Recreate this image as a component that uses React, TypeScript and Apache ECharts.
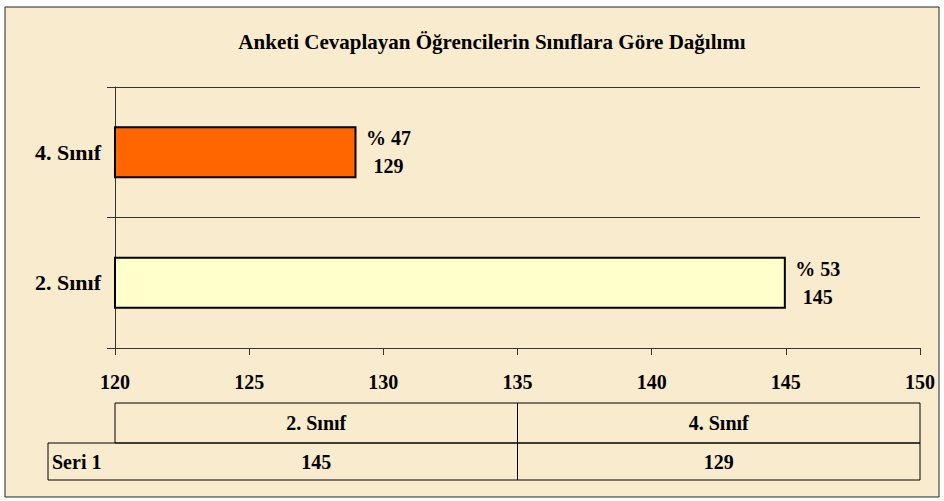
import React, { useEffect, useRef } from 'react';
import * as echarts from 'echarts';

const titleText = 'Anketi Cevaplayan Öğrencilerin Sınıflara Göre Dağılımı';
const categories = ['2. Sınıf', '4. Sınıf'];
const values = [145, 129];
const percents = [53, 47];
const barColors = ['#ffffcc', '#ff6600'];
const seriesName = 'Seri 1';
const xMin = 120;
const xMax = 150;
const xInterval = 5;

const FONT = "'Liberation Serif', 'DejaVu Serif', serif";

export default function App() {
  const ref = useRef<HTMLDivElement>(null);
  useEffect(() => {
    if (!ref.current) return;
    const chart = echarts.init(ref.current, undefined, { renderer: 'svg' });
    const gl = 115, gr = 920, gt = 87, gb = 348;
    const tTop = 403, tMid = 443, tBot = 480, tLeft = 48;
    const colW = (gr - gl) / categories.length;
    const tf = `bold 20px ${FONT}`;
    const tableEls: any[] = [
      { type: 'rect', shape: { x: gl, y: tTop, width: gr - gl, height: tMid - tTop }, style: { fill: 'none', stroke: '#000', lineWidth: 1 }, z: 10 },
      { type: 'rect', shape: { x: tLeft, y: tMid, width: gr - tLeft, height: tBot - tMid }, style: { fill: 'none', stroke: '#000', lineWidth: 1 }, z: 10 },
      { type: 'text', x: tLeft + 4, y: (tMid + tBot) / 2, style: { text: seriesName, font: tf, fill: '#000', align: 'left', verticalAlign: 'middle' }, z: 10 },
    ];
    categories.forEach((c, i) => {
      const x0 = gl + i * colW;
      if (i > 0) {
        tableEls.push({ type: 'line', shape: { x1: x0, y1: tTop, x2: x0, y2: tBot }, style: { stroke: '#000', lineWidth: 1 }, z: 10 });
      }
      tableEls.push({ type: 'text', x: x0 + colW / 2, y: (tTop + tMid) / 2, style: { text: c, font: tf, fill: '#000', align: 'center', verticalAlign: 'middle' }, z: 10 });
      tableEls.push({ type: 'text', x: x0 + colW / 2, y: (tMid + tBot) / 2, style: { text: String(values[i]), font: tf, fill: '#000', align: 'center', verticalAlign: 'middle' }, z: 10 });
    });

    chart.setOption({
      animation: false,
      backgroundColor: '#ffffff',
      title: {
        text: titleText,
        left: 487,
        textAlign: 'center',
        top: 26,
        textStyle: { fontFamily: FONT, fontWeight: 'bold', fontSize: 21, color: '#000' },
      },
      graphic: [
        { type: 'rect', shape: { x: 5, y: 7, width: 934, height: 490 }, style: { fill: '#f8ebce', stroke: '#222', lineWidth: 1 }, z: -10, silent: true },
        ...tableEls,
      ],
      grid: { left: gl, right: 944 - gr, top: gt, bottom: 501 - gb, containLabel: false },
      xAxis: {
        type: 'value',
        min: xMin,
        max: xMax,
        interval: xInterval,
        axisLine: { show: true, lineStyle: { color: '#333', width: 1 } },
        axisTick: { show: true, length: 7, lineStyle: { color: '#333' } },
        splitLine: { show: false },
        axisLabel: { margin: 24, fontFamily: FONT, fontWeight: 'bold', fontSize: 20, color: '#000' },
      },
      yAxis: {
        type: 'category',
        data: categories,
        axisLine: { show: true, lineStyle: { color: '#333', width: 1 } },
        axisTick: { show: true, length: 8, lineStyle: { color: '#333' } },
        splitLine: { show: true, lineStyle: { color: '#333', width: 1 } },
        axisLabel: { margin: 14, fontFamily: FONT, fontWeight: 'bold', fontSize: 22, color: '#000' },
      },
      series: [
        {
          type: 'bar',
          name: seriesName,
          barWidth: '40%',
          data: values.map((v, i) => ({
            value: v,
            itemStyle: { color: barColors[i], borderColor: '#000', borderWidth: 2 },
          })),
          label: {
            show: true,
            position: 'right',
            distance: 0,
            align: 'center',
            offset: [32, 0],
            formatter: (p: any) => `% ${percents[p.dataIndex]}\n${p.value}`,
            fontFamily: FONT,
            fontWeight: 'bold',
            fontSize: 20,
            lineHeight: 28,
            color: '#000',
          },
        },
      ],
    });
    return () => chart.dispose();
  }, []);
  return <div ref={ref} style={{ position: 'fixed', left: 0, top: 0, width: 944, height: 501 }} />;
}
